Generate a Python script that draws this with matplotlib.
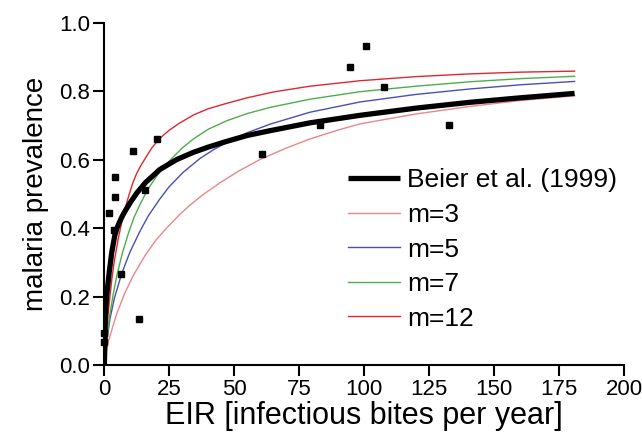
import matplotlib
matplotlib.use("Agg")
import matplotlib.pyplot as plt

plt.rcParams['font.family'] = ['Liberation Sans', 'DejaVu Sans']

# Observed data points (EIR, prevalence)
obs_eir = [0, 0, 2.0, 3.8, 4.2, 4.2, 6.7, 11.0, 13.5, 15.8, 20.3, 60.6, 83.1, 94.5, 100.9, 107.8, 132.7]
obs_prev = [0.094, 0.068, 0.443, 0.394, 0.491, 0.548, 0.266, 0.626, 0.135, 0.511, 0.660, 0.616, 0.700, 0.871, 0.931, 0.813, 0.702]

# Beier et al. (1999) curve
beier_x = [0.15, 0.5, 1, 2, 3, 4.2, 5, 6, 7, 8, 10, 12.6, 16, 21.5, 28, 34.4, 40, 47.2, 55, 63.8, 79.2, 98.5, 120, 140.8, 160, 181]
beier_y = [0.0, 0.14, 0.20, 0.27, 0.33, 0.38, 0.40, 0.418, 0.434, 0.448, 0.473, 0.502, 0.533, 0.571, 0.600, 0.621, 0.636, 0.653, 0.670, 0.684, 0.707, 0.729, 0.750, 0.767, 0.780, 0.793]

# model curves
m3_x = [0, 1.7, 4.9, 8, 11.3, 16, 20, 24.1, 29.2, 33.1, 38, 44.6, 52, 60, 70, 79.2, 90, 98.5, 120, 140.8, 160, 181]
m3_y = [0, 0.07, 0.15, 0.21, 0.262, 0.322, 0.365, 0.400, 0.44, 0.467, 0.497, 0.532, 0.567, 0.600, 0.633, 0.660, 0.686, 0.704, 0.733, 0.755, 0.772, 0.786]

m5_x = [0, 1, 2.3, 4, 6.8, 10, 13.8, 17, 21.5, 25, 30.5, 36.9, 42, 47.2, 55, 63.8, 79.2, 98.5, 120, 140.8, 160, 181]
m5_y = [0, 0.065, 0.135, 0.195, 0.267, 0.33, 0.39, 0.435, 0.485, 0.52, 0.563, 0.603, 0.628, 0.650, 0.678, 0.703, 0.738, 0.768, 0.790, 0.806, 0.818, 0.828]

m7_x = [0, 1, 2, 3.5, 4.9, 7, 9.4, 11.5, 13.8, 17, 21.5, 25.4, 30, 34.4, 40, 47.2, 55, 63.8, 79.2, 98.5, 120, 140.8, 160, 181]
m7_y = [0, 0.07, 0.135, 0.205, 0.26, 0.325, 0.385, 0.43, 0.468, 0.515, 0.565, 0.598, 0.633, 0.660, 0.688, 0.713, 0.734, 0.752, 0.776, 0.798, 0.814, 0.827, 0.836, 0.843]

m12_x = [0, 1, 2, 3, 4, 5.5, 7.5, 9.4, 11, 12.6, 14, 16, 18.5, 21.5, 25, 29, 34.4, 40, 47.2, 55, 65, 79.2, 98.5, 120, 140.8, 160, 181]
m12_y = [0, 0.10, 0.18, 0.25, 0.305, 0.37, 0.44, 0.491, 0.53, 0.560, 0.58, 0.605, 0.635, 0.662, 0.685, 0.706, 0.730, 0.748, 0.764, 0.780, 0.797, 0.814, 0.830, 0.842, 0.850, 0.855, 0.858]

x_ticks = [0, 25, 50, 75, 100, 125, 150, 175, 200]
y_ticks = [0.0, 0.2, 0.4, 0.6, 0.8, 1.0]

fig = plt.figure(figsize=(6.42, 4.44), dpi=100)
ax = fig.add_axes([104/642, 1-365/444, 520/642, 342.5/444])

ax.plot(beier_x, beier_y, color='black', lw=3.8, label='Beier et al. (1999)', zorder=4, solid_capstyle='butt')
ax.plot(m3_x, m3_y, color='#e9878b', lw=1.0, label='m=3', zorder=3)
ax.plot(m5_x, m5_y, color='#4a50b0', lw=1.0, label='m=5', zorder=3)
ax.plot(m7_x, m7_y, color='#4cae4c', lw=1.0, label='m=7', zorder=3)
ax.plot(m12_x, m12_y, color='#e0272c', lw=1.0, label='m=12', zorder=3)
ax.plot(obs_eir, obs_prev, 's', color='black', ms=4.2, ls='none', zorder=5, clip_on=False)

ax.set_xlim(0, 200)
ax.set_ylim(0, 1.0)
ax.set_xticks(x_ticks)
ax.set_yticks(y_ticks)
ax.set_yticklabels([f"{v:.1f}" for v in y_ticks])
for s in ['top', 'right']:
    ax.spines[s].set_visible(False)
for s in ['left', 'bottom']:
    ax.spines[s].set_linewidth(1.5)
ax.tick_params(direction='out', length=8, width=1.5, labelsize=16, pad=2)
ax.set_xlabel('EIR [infectious bites per year]', fontsize=22, labelpad=1)
ax.set_ylabel('malaria prevalence', fontsize=20, labelpad=7)

leg = ax.legend(loc='upper left', bbox_to_anchor=(244/520, 0.574), frameon=False,
                fontsize=19, handlelength=1.97, handletextpad=0.27, labelspacing=0.40,
                borderaxespad=0, borderpad=0)

fig.savefig('out.png', dpi=100)
